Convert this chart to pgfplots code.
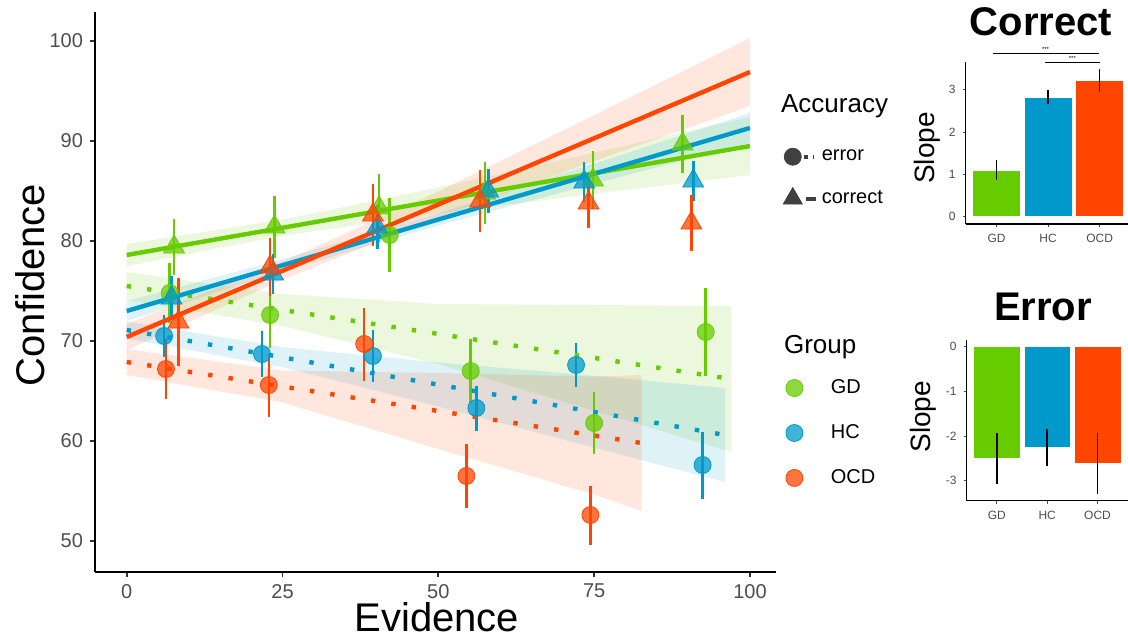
\documentclass[border=0pt]{standalone}
\usepackage{pgfplots}
\pgfplotsset{compat=1.18}
\usepackage{fontspec}
\setmainfont{Liberation Sans}

\definecolor{cGD}{HTML}{66CC00}
\definecolor{cHC}{HTML}{0099CC}
\definecolor{cOCD}{HTML}{FF4500}
\definecolor{tickgray}{HTML}{4D4D4D}

\pgfplotsset{
  rib/.style={draw=none, fill=#1, fill opacity=0.13, forget plot},
  pts/.style={only marks, color=#1, mark options={fill=#1, draw=none, fill opacity=0.75},
    error bars/.cd, y dir=both, y explicit, error mark=none,
    error bar style={line width=1.3pt, #1}},
  fitc/.style={#1, line width=2.2pt, no marks},
  fite/.style={#1, line width=2.2pt, no marks, dash pattern=on 2.2pt off 8.1pt},
  slopebar/.style={fill=#1, draw=white, line width=0.3pt,
    error bars/.cd, y dir=both, y explicit, error mark=none,
    error bar style={black, line width=0.8pt}},
}

\begin{document}
\begin{tikzpicture}
\useasboundingbox (0,0) rectangle (564pt,319pt);

% ---------------- main panel ----------------
\begin{axis}[
  at={(47.5pt,33pt)}, anchor=south west,
  scale only axis, width=340.5pt, height=280pt,
  xmin=-5.09, xmax=104.18, ymin=46.9, ymax=102.9,
  axis x line*=bottom, axis y line*=left,
  axis line style={-, line width=1.2pt},
  xtick={0,25,50,75,100}, ytick={50,60,70,80,90,100},
  tick align=outside, major tick length=2.5pt,
  tick style={line width=0.9pt, black!80},
  tick label style={font=\fontsize{10}{12}\selectfont, text=tickgray},
  /pgf/number format/assume math mode=true,
  xlabel={Evidence}, ylabel={Confidence},
  label style={font=\fontsize{20}{24}\selectfont},
  xlabel style={at={(axis description cs:0.502,-0.08)}, anchor=center},
  ylabel style={at={(axis description cs:-0.0955,0.5125)}, anchor=center},
]
% confidence ribbons (correct)
\addplot[rib=cGD] coordinates {(0,79.7) (25,82.13) (50,85.35) (75,88.83) (100,92.4)
  (100,86.6) (75,84.73) (50,82.75) (25,80.53) (0,77.5)};
\addplot[rib=cHC] coordinates {(0,74.0) (25,78.18) (50,82.75) (75,87.73) (100,92.8)
  (100,89.8) (75,85.73) (50,81.55) (25,76.98) (0,72.0)};
\addplot[rib=cOCD] coordinates {(0,71.7) (25,77.93) (50,84.95) (75,92.58) (100,100.3)
  (100,93.5) (75,87.98) (50,82.35) (25,76.13) (0,69.1)};
% confidence ribbons (error)
\addplot[rib=cGD] coordinates {(0,76.9) (25,74.7) (50,73.7) (75,73.6) (97,73.5)
  (97,58.9) (75,63.0) (50,67.7) (25,71.5) (0,74.1)};
\addplot[rib=cHC] coordinates {(0,71.95) (25,69.38) (50,67.85) (75,66.53) (96,65.3)
  (96,55.9) (75,59.33) (50,63.45) (25,67.38) (0,70.25)};
\addplot[rib=cOCD] coordinates {(0,69.2) (25,67.05) (50,66.8) (75,66.45) (82.6,66.6)
  (82.6,53.0) (75,54.65) (50,59.2) (25,63.85) (0,66.6)};

% error trials (circles)
\addplot[mark=*, mark size=4.25pt, pts=cGD] coordinates {
  (6.9,74.8) +- (0,3.0) (23.0,72.6) +- (0,3.3) (42.2,80.6) +- (0,3.7)
  (55.2,67.0) +- (0,3.2) (75.0,61.8) +- (0,3.1) (92.9,70.9) +- (0,4.4)};
\addplot[mark=*, mark size=4.25pt, pts=cHC] coordinates {
  (6.0,70.5) +- (0,2.1) (21.7,68.7) +- (0,2.3) (39.5,68.5) +- (0,2.6)
  (56.1,63.3) +- (0,2.25) (72.1,67.6) +- (0,2.2) (92.4,57.6) +- (0,3.35)};
\addplot[mark=*, mark size=4.25pt, pts=cOCD] coordinates {
  (6.3,67.2) +- (0,3.0) (22.8,65.6) +- (0,3.15) (38.1,69.7) +- (0,3.65)
  (54.5,56.5) +- (0,3.2) (74.4,52.6) +- (0,2.95)};
% correct trials (triangles)
\addplot[mark=triangle*, mark size=6pt, pts=cGD] coordinates {
  (7.6,79.4) +- (0,2.8) (23.7,81.4) +- (0,3.1) (40.5,83.3) +- (0,3.4)
  (57.5,84.8) +- (0,3.1) (74.8,86.1) +- (0,2.9) (89.2,89.7) +- (0,2.85)};
\addplot[mark=triangle*, mark size=6pt, pts=cHC] coordinates {
  (7.2,74.3) +- (0,2.2) (23.5,76.7) +- (0,2.0) (40.2,81.4) +- (0,2.2)
  (58.0,85.0) +- (0,2.2) (73.4,85.9) +- (0,2.0) (90.9,86.0) +- (0,2.0)};
\addplot[mark=triangle*, mark size=6pt, pts=cOCD] coordinates {
  (8.3,71.9) +- (0,4.4) (23.0,77.4) +- (0,2.9) (39.5,82.6) +- (0,3.1)
  (56.7,84.0) +- (0,3.1) (74.1,83.8) +- (0,2.5) (90.6,81.8) +- (0,2.8)};

% fitted lines
\addplot[fite=cGD] coordinates {(0,75.5) (97,66.2)};
\addplot[fite=cHC] coordinates {(0,71.1) (96,60.6)};
\addplot[fite=cOCD] coordinates {(0,67.9) (82.6,59.8)};
\addplot[fitc=cGD] coordinates {(0,78.6) (100,89.5)};
\addplot[fitc=cHC] coordinates {(0,73.0) (100,91.3)};
\addplot[fitc=cOCD] coordinates {(0,70.4) (100,96.9)};
\end{axis}

% ---------------- legends ----------------
\begin{axis}[
  at={(0,0)}, anchor=south west, scale only axis, width=564pt, height=319pt,
  xmin=0, xmax=1128, ymin=0, ymax=638, hide axis, clip=false,
  legend style={at={(0.694,0.772)}, anchor=north west, draw=none, fill=none,
    font=\fontsize{10}{12}\selectfont, row sep=9.5pt, inner sep=0pt},
  legend cell align=left,
]
\addlegendimage{legend image code/.code={
  \draw[black!75, line width=2pt, dash pattern=on 1.8pt off 2.6pt] (5.6pt,0pt) -- (10.5pt,0pt);
  \path (12pt,0pt);
  \fill[black!75] (0pt,0pt) circle (4.25pt);}}
\addlegendentry{error}
\addlegendimage{legend image code/.code={
  \draw[black!75, line width=2pt] (6.5pt,0pt) -- (11.5pt,0pt);
  \begin{scope}\pgfsetplotmarksize{5.5pt}\color{black!75}\pgfuseplotmark{triangle*}\end{scope}}}
\addlegendentry{correct}
\node[anchor=west, font=\fontsize{13}{15}\selectfont] at (axis cs:774,532) {Accuracy};
\node[anchor=west, font=\fontsize{13}{15}\selectfont] at (axis cs:777,291) {Group};
\end{axis}

\begin{axis}[
  at={(0,0)}, anchor=south west, scale only axis, width=564pt, height=319pt,
  xmin=0, xmax=1128, ymin=0, ymax=638, hide axis,
  legend style={at={(0.696,0.412)}, anchor=north west, draw=none, fill=none,
    font=\fontsize{10}{12}\selectfont, row sep=10pt, inner sep=0pt},
  legend cell align=left,
]
\addlegendimage{legend image code/.code={
  \fill[cGD, fill opacity=0.75] (0pt,0pt) circle (4.25pt); \path (16pt,0pt);}}
\addlegendentry{GD}
\addlegendimage{legend image code/.code={
  \fill[cHC, fill opacity=0.75] (0pt,0pt) circle (4.25pt); \path (16pt,0pt);}}
\addlegendentry{HC}
\addlegendimage{legend image code/.code={
  \fill[cOCD, fill opacity=0.75] (0pt,0pt) circle (4.25pt); \path (16pt,0pt);}}
\addlegendentry{OCD}
\end{axis}

% ---------------- slope: correct ----------------
\begin{axis}[
  at={(482.85pt,207pt)}, anchor=south west,
  scale only axis, width=81.15pt, height=81.15pt,
  xmin=0.4, xmax=3.55, ymin=-0.17, ymax=3.66,
  axis x line*=bottom, axis y line*=left, axis line style={-, line width=0.6pt},
  xtick={1,2,3}, xticklabels={GD,HC,OCD}, ytick={0,1,2,3},
  tick align=outside, major tick length=1.5pt, tick style={black!70, line width=0.5pt},
  tick label style={font=\fontsize{6}{7}\selectfont, text=tickgray},
  /pgf/number format/assume math mode=true,
  ylabel={Slope}, ylabel style={font=\fontsize{14}{16}\selectfont,
    at={(axis description cs:-0.24,0.468)}, anchor=center},
  title={Correct}, title style={font=\bfseries\fontsize{20}{24}\selectfont,
    at={(axis description cs:0.464,1.171)}, anchor=center},
  clip=false, ybar, bar width=0.93, bar shift=0pt,
]
\addplot[slopebar=cGD] coordinates {(1,1.10) +- (0,0.23)};
\addplot[slopebar=cHC] coordinates {(2,2.83) +- (0,0.16)};
\addplot[slopebar=cOCD] coordinates {(3,3.22) +- (0,0.27)};
\draw[line width=0.6pt] (axis cs:0.92,3.85) -- (axis cs:2.98,3.85);
\draw[line width=0.6pt] (axis cs:1.94,3.64) -- (axis cs:3.0,3.64);
\node[font=\fontsize{3}{3}\selectfont, inner sep=0pt, anchor=south] at (axis cs:1.95,3.88) {***};
\node[font=\fontsize{3}{3}\selectfont, inner sep=0pt, anchor=south] at (axis cs:2.47,3.67) {***};
\end{axis}

% ---------------- slope: error ----------------
\begin{axis}[
  at={(483.35pt,68.65pt)}, anchor=south west,
  scale only axis, width=80.5pt, height=80.35pt,
  xmin=0.4, xmax=3.6, ymin=-3.445, ymax=0.15,
  axis x line*=bottom, axis y line*=left, axis line style={-, line width=0.6pt},
  xtick={1,2,3}, xticklabels={GD,HC,OCD}, ytick={-3,-2,-1,0},
  tick align=outside, major tick length=1.5pt, tick style={black!70, line width=0.5pt},
  tick label style={font=\fontsize{6}{7}\selectfont, text=tickgray},
  /pgf/number format/assume math mode=true,
  ylabel={Slope}, ylabel style={font=\fontsize{14}{16}\selectfont,
    at={(axis description cs:-0.271,0.523)}, anchor=center},
  title={Error}, title style={font=\bfseries\fontsize{20}{24}\selectfont,
    at={(axis description cs:0.474,1.13)}, anchor=center},
  clip=false, ybar, bar width=0.93, bar shift=0pt,
]
\addplot[slopebar=cGD] coordinates {(1,-2.50) +- (0,0.57)};
\addplot[slopebar=cHC] coordinates {(2,-2.25) +- (0,0.42)};
\addplot[slopebar=cOCD] coordinates {(3,-2.61) +- (0,0.69)};
\end{axis}
\end{tikzpicture}
\end{document}
